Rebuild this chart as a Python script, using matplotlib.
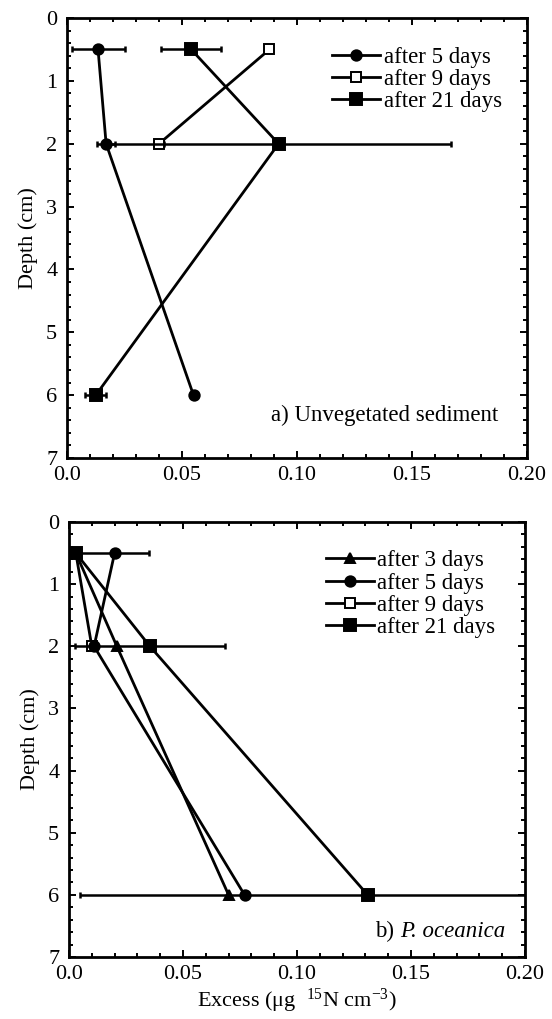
"""
Depth profiles of excess 15N, unvegetated sediment vs P. oceanica.
"""

import matplotlib
matplotlib.use("Agg")
import matplotlib.pyplot as plt
import numpy as np
from matplotlib.ticker import MultipleLocator
from matplotlib.transforms import offset_copy

plt.rcParams["font.family"] = ["Liberation Serif", "DejaVu Serif"]
plt.rcParams["mathtext.fontset"] = "custom"
plt.rcParams["mathtext.rm"] = "Liberation Serif"
plt.rcParams["mathtext.it"] = "Liberation Serif:italic"
plt.rcParams["mathtext.bf"] = "Liberation Serif:bold"

depth = [0.5, 2, 6]
x_ticks = [0.0, 0.05, 0.10, 0.15, 0.20]
x_tick_labels = ["0.0", "0.05", "0.10", "0.15", "0.20"]
y_ticks = [0, 1, 2, 3, 4, 5, 6, 7]

# panel a) unvegetated sediment
a_labels = ["after 5 days", "after 9 days", "after 21 days"]
a_values = [
    [0.0135, 0.017, 0.055],
    [0.088, 0.040, np.nan],
    [0.054, 0.092, 0.0125],
]
a_errors = [
    [0.0115, 0.004, 0.0],
    [0.0, 0.002, 0.0],
    [0.013, 0.075, 0.0045],
]

# panel b) P. oceanica
b_labels = ["after 3 days", "after 5 days", "after 9 days", "after 21 days"]
b_values = [
    [0.003, 0.021, 0.070],
    [0.020, 0.011, 0.077],
    [0.003, 0.010, np.nan],
    [0.003, 0.0355, 0.131],
]
b_errors = [
    [0.0, 0.0, 0.0],
    [0.015, 0.0, 0.0],
    [0.0, 0.0, 0.0],
    [0.0, 0.033, 0.126],
]

styles = {
    "after 3 days": dict(marker="^", mfc="black", ms=7.5),
    "after 5 days": dict(marker="o", mfc="black", ms=7.5),
    "after 9 days": dict(marker="s", mfc="white", ms=6.5),
    "after 21 days": dict(marker="s", mfc="black", ms=8),
}


def draw_panel(ax, labels, values, errors, legend_anchor):
    for lab, vals, errs in zip(labels, values, errors):
        st = styles[lab]
        z = 2 if lab == "after 9 days" else 3
        ax.errorbar(vals, depth, xerr=errs, fmt="none", ecolor="black",
                    elinewidth=1.8, capsize=2, capthick=1.8, zorder=z)
        ax.plot(vals, depth, color="black", lw=2.0, marker=st["marker"],
                mfc=st["mfc"], mec="black", mew=1.4, ms=st["ms"],
                label=lab, zorder=z)
    ax.set_xlim(0, 0.20)
    ax.set_ylim(7, 0)
    ax.set_xticks(x_ticks)
    ax.set_xticklabels(x_tick_labels)
    ax.set_yticks(y_ticks)
    ax.xaxis.set_minor_locator(MultipleLocator(0.01))
    ax.yaxis.set_minor_locator(MultipleLocator(0.2))
    ax.tick_params(which="both", direction="in", top=True, right=True,
                   labelsize=16, width=1.4)
    ax.tick_params(which="major", length=5)
    ax.tick_params(axis="x", which="major", pad=6)
    ax.tick_params(axis="y", which="major", pad=7)
    ax.tick_params(which="minor", length=3)
    for sp in ax.spines.values():
        sp.set_linewidth(2.0)
    ax.set_ylabel("Depth (cm)", fontsize=16, labelpad=6)
    ax.legend(loc="upper right", bbox_to_anchor=legend_anchor, frameon=False,
              fontsize=16.5, handlelength=2.1, handletextpad=0.15,
              labelspacing=0.05, borderpad=0, borderaxespad=0)


fig = plt.figure(figsize=(5.52, 10.19), dpi=100)
ax1 = fig.add_axes([0.1214, 0.5505, 0.8333, 0.4318])
ax2 = fig.add_axes([0.125, 0.0608, 0.826, 0.4269])

draw_panel(ax1, a_labels, a_values, a_errors, (0.945, 0.935))
ax1.text(0.937, 0.085, "a) Unvegetated sediment", transform=ax1.transAxes,
         ha="right", va="baseline", fontsize=16.5)

draw_panel(ax2, b_labels, b_values, b_errors, (0.935, 0.935))
species = ax2.text(0.956, 0.045, "P. oceanica", transform=ax2.transAxes,
                   ha="right", va="baseline", fontsize=16.5, fontstyle="italic")
fig.canvas.draw()
sp_w = species.get_window_extent().width * 72 / fig.dpi
ax2.text(0.956, 0.045, "b) ", ha="right", va="baseline", fontsize=16.5,
         transform=offset_copy(ax2.transAxes, fig=fig, x=-sp_w, units="points"))
ax2.set_xlabel("Excess (μg  $^{15}$N cm$^{-3}$)", fontsize=16, labelpad=2)

fig.savefig("out.png", dpi=100)
